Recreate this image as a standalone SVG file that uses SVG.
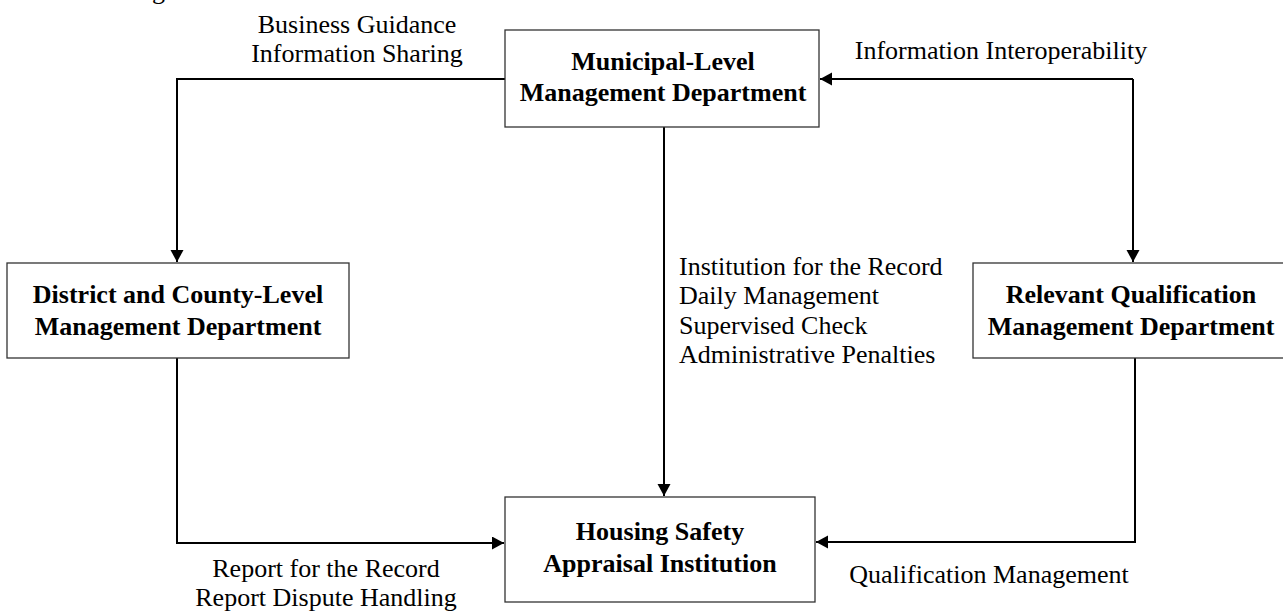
<svg xmlns="http://www.w3.org/2000/svg" width="1283" height="612" viewBox="0 0 1283 612">
<style>
.box{fill:#fff;stroke:#333;stroke-width:1.3}
.t{font-family:"Liberation Serif","Times New Roman",serif;font-size:26px;fill:#000}
.b{font-weight:bold;text-anchor:middle}
.c{text-anchor:middle}
.ln{fill:none;stroke:#000;stroke-width:2}
</style>
<defs>
<marker id="ah" markerUnits="userSpaceOnUse" markerWidth="13" markerHeight="14" refX="12" refY="6.5" orient="auto">
<path d="M0,0 L12,6.5 L0,13 z" fill="#000"/>
</marker>
</defs>
<rect width="1283" height="612" fill="#fff"/>
<text class="t" x="152" y="-1">g</text>
<g id="connectors">
<path class="ln" d="M505,79 H177 V262" marker-end="url(#ah)"/>
<path class="ln" d="M1133,79 V262" marker-end="url(#ah)"/>
<path class="ln" d="M1133,79 H820" marker-end="url(#ah)"/>
<path class="ln" d="M664,127 V496" marker-end="url(#ah)"/>
<path class="ln" d="M177,358 V543 H504" marker-end="url(#ah)"/>
<path class="ln" d="M1135,358 V542 H816" marker-end="url(#ah)"/>
<text class="t c" x="357" y="33">Business Guidance</text>
<text class="t c" x="357" y="62">Information Sharing</text>
<text class="t c" x="1001" y="59">Information Interoperability</text>
<text class="t" x="679" y="275">Institution for the Record</text>
<text class="t" x="679" y="304">Daily Management</text>
<text class="t" x="679" y="334">Supervised Check</text>
<text class="t" x="679" y="363">Administrative Penalties</text>
<text class="t c" x="326" y="577">Report for the Record</text>
<text class="t c" x="326" y="606">Report Dispute Handling</text>
<text class="t c" x="989" y="583">Qualification Management</text>
</g>
<g id="municipal">
<rect class="box" x="505" y="30" width="314" height="97"/>
<text class="t b" x="663" y="70">Municipal-Level</text>
<text class="t b" x="663" y="101">Management Department</text>
</g>
<g id="district">
<rect class="box" x="7" y="263" width="342" height="95"/>
<text class="t b" x="178" y="303">District and County-Level</text>
<text class="t b" x="178" y="335">Management Department</text>
</g>
<g id="relevant">
<rect class="box" x="973" y="263" width="316" height="95"/>
<text class="t b" x="1131" y="303">Relevant Qualification</text>
<text class="t b" x="1131" y="335">Management Department</text>
</g>
<g id="housing">
<rect class="box" x="505" y="497" width="310" height="105"/>
<text class="t b" x="660" y="540">Housing Safety</text>
<text class="t b" x="660" y="572">Appraisal Institution</text>
</g>
</svg>
